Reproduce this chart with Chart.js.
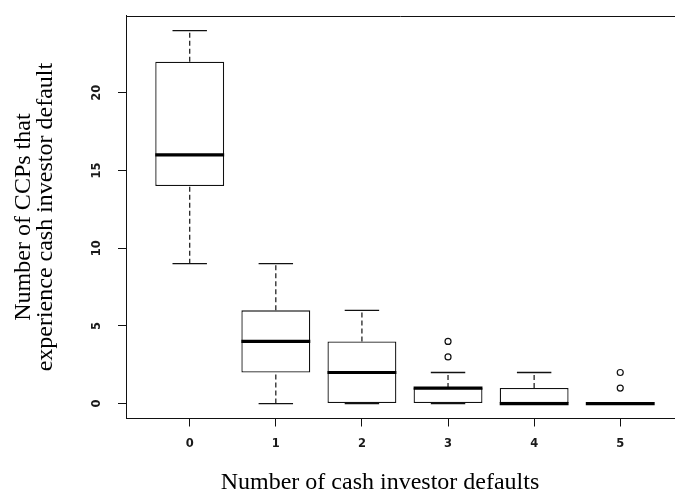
<!DOCTYPE html>
<html><head><meta charset="utf-8">
<script src="https://cdn.jsdelivr.net/npm/chart.js@4"></script>
<style>html,body{margin:0;padding:0;background:#fff;overflow:hidden}#wrap{width:675px;height:492px;position:relative}</style>
</head><body><div id="wrap"><canvas id="c"></canvas></div>
<script>
const categories = ['0','1','2','3','4','5'];
const whiskerLow = [9, 0, 0, 0, 0, 0];
const q1 = [14, 2, 0, 0, 0, 0];
const median = [16, 4, 2, 1, 0, 0];
const q3 = [22, 6, 4, 1, 1, 0];
const whiskerHigh = [24, 9, 6, 2, 2, 0];
const outliers = [[], [], [], [3, 4], [], [1, 2]];
const yTicks = [0, 5, 10, 15, 20];
const xTitle = 'Number of cash investor defaults';
const yTitle = ['Number of CCPs that', 'experience cash investor default'];

const BOX_HALF = 0.4, CAP_HALF = 0.2;
const gap = i => ({x: i, y: null});
const boxData = categories.map((c, i) => ({x: i, y: [q1[i], q3[i]]}));
const whiskerData = [], capData = [], medianData = [], outlierData = [];
categories.forEach((c, i) => {
  whiskerData.push({x: i, y: q3[i]}, {x: i, y: whiskerHigh[i]}, gap(i), {x: i, y: whiskerLow[i]}, {x: i, y: q1[i]}, gap(i));
  capData.push({x: i - CAP_HALF, y: whiskerHigh[i]}, {x: i + CAP_HALF, y: whiskerHigh[i]}, gap(i),
               {x: i - CAP_HALF, y: whiskerLow[i]}, {x: i + CAP_HALF, y: whiskerLow[i]}, gap(i));
  medianData.push({x: i - BOX_HALF, y: median[i]}, {x: i + BOX_HALF, y: median[i]}, gap(i));
  outliers[i].forEach(v => outlierData.push({x: i, y: v}));
});

const INK = '#111';
const tickFont = {family: '"DejaVu Sans"', size: 11.5, weight: 'bold'};

const framePlugin = {
  id: 'frame',
  afterDraw(chart) {
    const {ctx, chartArea: a} = chart;
    ctx.save();
    ctx.strokeStyle = INK; ctx.lineWidth = 1;
    ctx.beginPath();
    ctx.moveTo(a.left, Math.round(a.top) + 0.5);
    ctx.lineTo(chart.width, Math.round(a.top) + 0.5);
    ctx.stroke();
    ctx.fillStyle = '#000';
    ctx.font = '24px "Liberation Serif"';
    ctx.textAlign = 'center';
    ctx.textBaseline = 'alphabetic';
    ctx.fillText(xTitle, 380, 489);
    ctx.restore();
  }
};

new Chart(document.getElementById('c'), {
  type: 'bar',
  data: {
    datasets: [
      {type: 'bar', data: boxData, backgroundColor: '#fff', borderColor: INK, borderWidth: 1.3,
       borderSkipped: false, barPercentage: 0.8, categoryPercentage: 1, order: 4},
      {type: 'line', data: whiskerData, borderColor: INK, borderWidth: 1.2, borderDash: [5, 3],
       pointRadius: 0, spanGaps: false, fill: false, order: 3},
      {type: 'line', data: capData, borderColor: INK, borderWidth: 1.3,
       pointRadius: 0, spanGaps: false, fill: false, order: 2},
      {type: 'line', data: medianData, borderColor: '#000', borderWidth: 3.2, borderCapStyle: 'butt',
       pointRadius: 0, spanGaps: false, fill: false, order: 1},
      {type: 'scatter', data: outlierData, pointStyle: 'circle', pointRadius: 3,
       pointBackgroundColor: '#fff', pointBorderColor: INK, pointBorderWidth: 1.2, order: 0}
    ]
  },
  options: {
    responsive: true, maintainAspectRatio: false, animation: false, devicePixelRatio: 1,
    layout: {padding: {top: 15.7, left: 0, right: 0, bottom: 0}, autoPadding: false},
    plugins: {legend: {display: false}, tooltip: {enabled: false}},
    scales: {
      x: {
        type: 'linear', min: -0.74, max: 5.636, offset: false,
        afterBuildTicks: s => { s.ticks = categories.map((c, i) => ({value: i})); },
        afterFit: s => { s.height = 73.5; s.paddingLeft = 0; s.paddingRight = 0; },
        ticks: {callback: v => categories[Math.round(v)], font: tickFont, color: '#1a1a1a', padding: 11, autoSkip: false, maxRotation: 0},
        grid: {offset: false, drawOnChartArea: false, drawTicks: true, tickLength: 8, color: INK},
        border: {display: true, color: INK, width: 1}
      },
      y: {
        type: 'linear', min: -0.96, max: 24.96,
        afterBuildTicks: s => { s.ticks = yTicks.map(v => ({value: v})); },
        afterFit: s => { s.width = 126; s.paddingTop = 0; s.paddingBottom = 0; },
        ticks: {font: tickFont, color: '#1a1a1a', padding: 13, minRotation: 90, maxRotation: 90, crossAlign: 'center', autoSkip: false},
        grid: {drawOnChartArea: false, drawTicks: true, tickLength: 8, color: INK},
        border: {display: true, color: INK, width: 1},
        title: {display: true, text: yTitle, color: '#000',
                font: {family: '"Liberation Serif"', size: 24, lineHeight: '22px'},
                padding: {top: 13, bottom: 0}}
      }
    }
  },
  plugins: [framePlugin]
});
</script>
</body></html>
